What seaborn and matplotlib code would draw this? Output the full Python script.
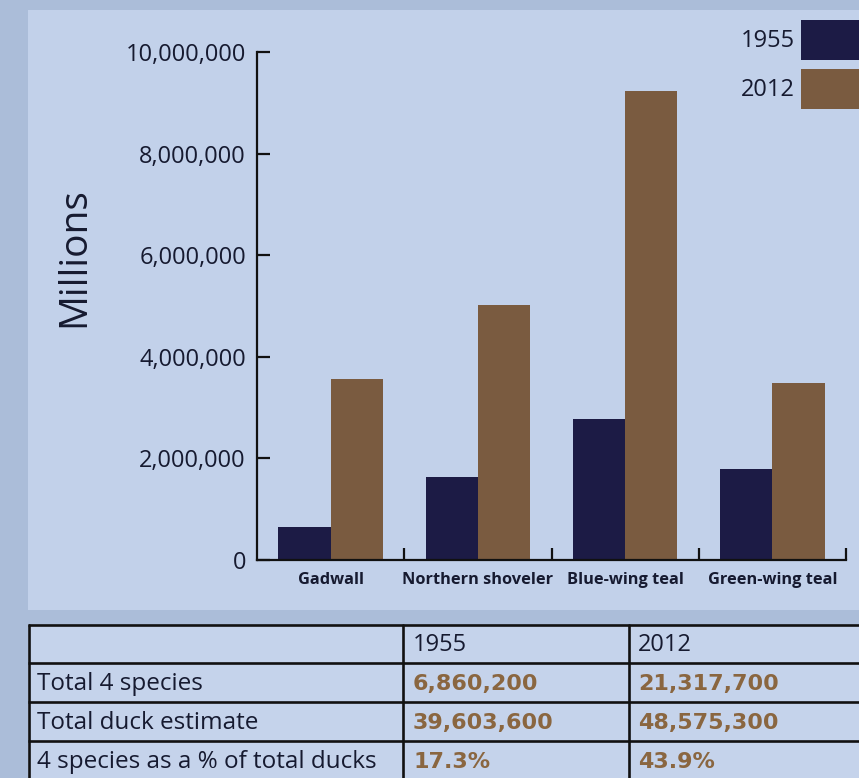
import matplotlib
matplotlib.use("Agg")
import matplotlib.pyplot as plt
from matplotlib.patches import Rectangle, Patch
from matplotlib.ticker import FuncFormatter, FixedLocator
import seaborn as sns
import pandas as pd

# Breeding population estimates (birds)
species = ["Gadwall", "Northern shoveler", "Blue-wing teal", "Green-wing teal"]
years = ["1955", "2012"]
count_1955 = [650000, 1640000, 2780000, 1790000]
count_2012 = [3570000, 5020000, 9240000, 3490000]

# Summary table
table_header = ["", "1955", "2012"]
table_labels = ["Total 4 species", "Total duck estimate", "4 species as a % of total ducks"]
table_1955 = ["6,860,200", "39,603,600", "17.3%"]
table_2012 = ["21,317,700", "48,575,300", "43.9%"]

NAVY = "#1c1b45"
BROWN = "#7a5b40"
TEXT = "#161a30"
NUM = "#8a6640"
OUTER = "#abbdd9"
PANEL = "#c2d1ea"
CELL = "#c5d3eb"

df = pd.DataFrame({
    "species": species * 2,
    "year": [years[0]] * 4 + [years[1]] * 4,
    "count": count_1955 + count_2012,
})

sns.set_theme(style="white")
plt.rcParams["font.family"] = ["Open Sans", "DejaVu Sans"]

W, H = 859, 778
fig = plt.figure(figsize=(W / 100, H / 100), dpi=100)
fig.patch.set_facecolor(OUTER)

def fx(px):
    return px / W

def fy(py):
    return 1 - py / H

# light panel behind the chart
fig.add_artist(Rectangle((fx(28), fy(610)), fx(W - 28), (610 - 10) / H,
                         transform=fig.transFigure, facecolor=PANEL,
                         edgecolor="none", zorder=0))

ax = fig.add_axes([fx(257), fy(560), (846 - 257) / W, (560 - 52) / H])
ax.set_facecolor("none")
sns.barplot(data=df, x="species", y="count", hue="year", order=species,
            hue_order=years, palette=[NAVY, BROWN], width=0.71,
            saturation=1, linewidth=0, ax=ax, legend=False, errorbar=None)

ax.set_xlim(-0.5, 3.5)
ax.set_ylim(0, 10_000_000)
ax.set_xlabel("")
ax.set_ylabel("")
for side in ("top", "right"):
    ax.spines[side].set_visible(False)
for side in ("left", "bottom"):
    ax.spines[side].set_color("#111111")
    ax.spines[side].set_linewidth(1.6)

ax.set_yticks(range(0, 10_000_001, 2_000_000))
ax.yaxis.set_major_formatter(FuncFormatter(lambda v, p: f"{int(v):,}"))
ax.tick_params(axis="y", direction="in", length=9.5, width=1.6,
               color="#111111", pad=8, labelsize=17, labelcolor=TEXT, left=True)
ax.tick_params(axis="x", which="major", length=0, pad=9, labelsize=11.8,
               labelcolor=TEXT)
for lab in ax.get_xticklabels():
    lab.set_fontweight("bold")
ax.xaxis.set_minor_locator(FixedLocator([0.5, 1.5, 2.5, 3.5]))
ax.tick_params(axis="x", which="minor", direction="in", length=8.5,
               width=1.6, color="#111111", bottom=True)

fig.text(fx(74), fy(257), "Millions", rotation=90, ha="center", va="center",
         fontsize=28, color=TEXT)

handles = [Patch(facecolor=NAVY, edgecolor="none"),
           Patch(facecolor=BROWN, edgecolor="none")]
fig.legend(handles, years, loc="upper left", bbox_to_anchor=(fx(741), fy(20)),
           frameon=False, markerfirst=False, fontsize=17, handleheight=2.2,
           handlelength=3.0, handletextpad=0.25, labelspacing=0.4,
           borderpad=0, borderaxespad=0, labelcolor=TEXT)

# summary table drawn in pixel-like coordinates
tax = fig.add_axes([fx(28), 0, 1 - fx(28), (H - 625) / H])
tax.set_xlim(28, W)
tax.set_ylim(H, 625)
tax.axis("off")
tax.add_patch(Rectangle((28, 625), W - 28, H - 625, facecolor=CELL,
                        edgecolor="none", zorder=0))
row_lines = [625, 663.5, 702.5, 741.5]
for yv in row_lines:
    tax.plot([28, W], [yv, yv], color="#111111", lw=1.9, solid_capstyle="butt",
             clip_on=False)
for xv in [28.5, 403, 629]:
    tax.plot([xv, xv], [625, H], color="#111111", lw=1.9, clip_on=False)

cols_x = [37, 413, 638]
tax.text(cols_x[1], 645, table_header[1], ha="left", va="center", fontsize=17,
         color=TEXT)
tax.text(cols_x[2], 645, table_header[2], ha="left", va="center", fontsize=17,
         color=TEXT)
for i, lab in enumerate(table_labels):
    yc = (row_lines[i + 1] + (row_lines[i + 2] if i + 2 < len(row_lines) else 780)) / 2 + 1
    tax.text(cols_x[0], yc, lab, ha="left", va="center", fontsize=17.5, color=TEXT)
    tax.text(cols_x[1], yc, table_1955[i], ha="left", va="center", fontsize=16,
             color=NUM, fontweight="bold", family=["DejaVu Sans"])
    tax.text(cols_x[2], yc, table_2012[i], ha="left", va="center", fontsize=16,
             color=NUM, fontweight="bold", family=["DejaVu Sans"])

fig.savefig("out.png", dpi=100, facecolor=fig.get_facecolor())
